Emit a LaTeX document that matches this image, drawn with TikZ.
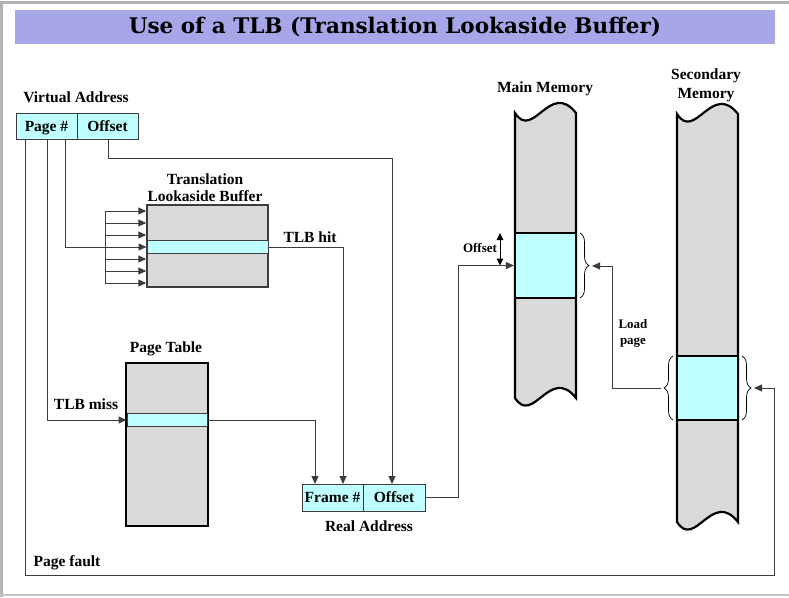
\documentclass[tikz,border=0pt]{standalone}
\usepackage{fontspec}
\setmainfont{Liberation Serif}
\newfontfamily\titlefont{DejaVu Serif}
\usetikzlibrary{arrows.meta,decorations.pathreplacing,calc}
\definecolor{titlebg}{RGB}{166,166,232}
\definecolor{cellcyan}{RGB}{191,255,255}
\definecolor{memgray}{RGB}{217,217,217}
\definecolor{linegray}{RGB}{60,60,60}
\begin{document}
\begin{tikzpicture}[x=1pt,y=-1pt,
  lbl/.style={font=\bfseries\fontsize{15.5}{18}\selectfont, inner sep=0pt, align=center},
  smalllbl/.style={font=\bfseries\fontsize{13}{16}\selectfont, inner sep=0pt, align=center},
  cell/.style={draw=linegray, line width=1pt, fill=cellcyan, inner sep=0pt,
    minimum height=26, text height=12pt, text depth=2pt, font=\bfseries\fontsize{15.5}{18}\selectfont},
  conn/.style={draw=linegray, line width=1pt},
  arr/.style={conn, -{Triangle[length=8pt,width=7pt]}},
  tablebox/.style={draw=black, line width=2.2pt, fill=memgray, inner sep=0pt},
  rowbox/.style={draw=linegray, line width=1pt, fill=cellcyan, inner sep=0pt},
  memout/.style={draw=black, line width=2.2pt, fill=memgray},
  memblk/.style={draw=black, line width=2.2pt, fill=cellcyan, inner sep=0pt},
  bracestyle/.style={draw=black, line width=0.7pt, decorate, decoration={brace, amplitude=9pt}}
]
\useasboundingbox (0,0) rectangle (789,597);
% slide frame
\draw[gray!60, line width=3pt] (1.5,597) -- (1.5,2) -- (789,2);
\draw[gray!45, line width=2pt] (0,595) -- (789,595);

% title
\node[fill=titlebg, minimum width=760, minimum height=34, inner sep=0pt] (title) at (395,27)
  {\titlefont\bfseries\fontsize{21.5}{26}\selectfont Use of a TLB (Translation Lookaside Buffer)};

% virtual address
\node[lbl] (valbl) at (76,97) {Virtual Address};
\node[cell, minimum width=61] (vapage) at (46.5,126) {Page \#};
\node[cell, minimum width=61] (vaoff) at (107.5,126) {Offset};

% TLB
\node[lbl] (tlblbl) at (205,188) {Translation\\[-1pt]Lookaside Buffer};
\node[draw=linegray, line width=1.5pt, fill=memgray, minimum width=121, minimum height=82, inner sep=0pt] (tlb) at (207.5,246) {};
\node[rowbox, minimum width=121, minimum height=13] (tlbrow) at (207.5,247) {};
\node[lbl] (hitlbl) at (310,237) {TLB hit};

% page table
\node[lbl] (ptlbl) at (166,349) {Page Table};
\node[tablebox, minimum width=82, minimum height=163] (pt) at (167,444.5) {};
\node[rowbox, minimum width=80, minimum height=13] (ptrow) at (167,420) {};
\node[lbl] (misslbl) at (86,404) {TLB miss};

% real address
\node[cell, minimum width=61, minimum height=27] (raframe) at (332.5,497.5) {Frame \#};
\node[cell, minimum width=62, minimum height=27] (raoff) at (394,497.5) {Offset};
\node[lbl] (ralbl) at (369,526) {Real Address};

\node[lbl] (pflbl) at (67,563) {Page fault};

% main memory
\node[lbl] (mmlbl) at (545,88.5) {Main Memory};
\draw[memout] (515,113) .. controls (533,141) and (550,80) .. (576,113) -- (576,398)
  .. controls (550,365) and (533,426) .. (515,398) -- cycle;
\node[memblk, minimum width=61, minimum height=65] (mmblk) at (545.5,265.5) {};

% secondary memory
\node[lbl] (smlbl) at (706,85) {Secondary\\[1pt]Memory};
\draw[memout] (677,114) .. controls (695,142) and (712,81) .. (738,114) -- (738,522)
  .. controls (712,489) and (695,550) .. (677,522) -- cycle;
\node[memblk, minimum width=61, minimum height=64] (smblk) at (707.5,388) {};

% braces
\draw[bracestyle] (580,233) -- (580,298);
\draw[bracestyle] (673,420) -- (673,356);
\draw[bracestyle] (742,356) -- (742,420);
\coordinate (mmbrace) at (592,266);
\coordinate (smlbrace) at (661,388);
\coordinate (smrbrace) at (754,388);

% labels near memories
\node[smalllbl] (offlbl) at (480,248) {Offset};
\node[smalllbl] (loadlbl) at (633,333) {Load\\page};
\coordinate (offtop) at (500,233);
\coordinate (offbot) at (500,265.5);
\draw[line width=1pt, {Triangle[length=7pt,width=6.5pt]}-{Triangle[length=7pt,width=6.5pt]}] (offtop) -- (offbot);

% connectors from virtual address
\coordinate (pf0) at (25,139);
\coordinate (pf1) at (774,575);
\coordinate (miss0) at (47,139);
\coordinate (hit0) at (65,139);
\coordinate (off0) at (108,139);
\coordinate (offbend) at (392,158);
\coordinate (ptin) at (315,484);
\coordinate (hitin) at (343,484);
\coordinate (offin) at (392,484);
\coordinate (rabend) at (458,497.5);

\draw[arr] (pf0) |- (pf1) |- (smrbrace);
\draw[arr] (miss0) |- (ptrow.west);
\draw[arr] (hit0) |- (tlbrow.west);
\draw[arr] (off0) |- (offbend) -- (offin);

% TLB fan-in
\coordinate (fan0) at (105,211);
\coordinate (fan1) at (105,283);
\draw[conn] (fan0) -- (fan1);
\foreach \yy in {211,223,235,259,271,283}{
  \draw[arr] (105,\yy) -- (tlb.west |- 0,\yy);
}

\draw[arr] (tlbrow.east) -| (hitin);
\draw[arr] (ptrow.east) -| (ptin);
\draw[conn] (raoff.east) -- (rabend);
\draw[arr] (rabend) |- (mmblk.west);

% load page
\coordinate (loadbend) at (612,388);
\draw[arr] (smlbrace) -- (loadbend) |- (mmbrace);
\end{tikzpicture}
\end{document}
